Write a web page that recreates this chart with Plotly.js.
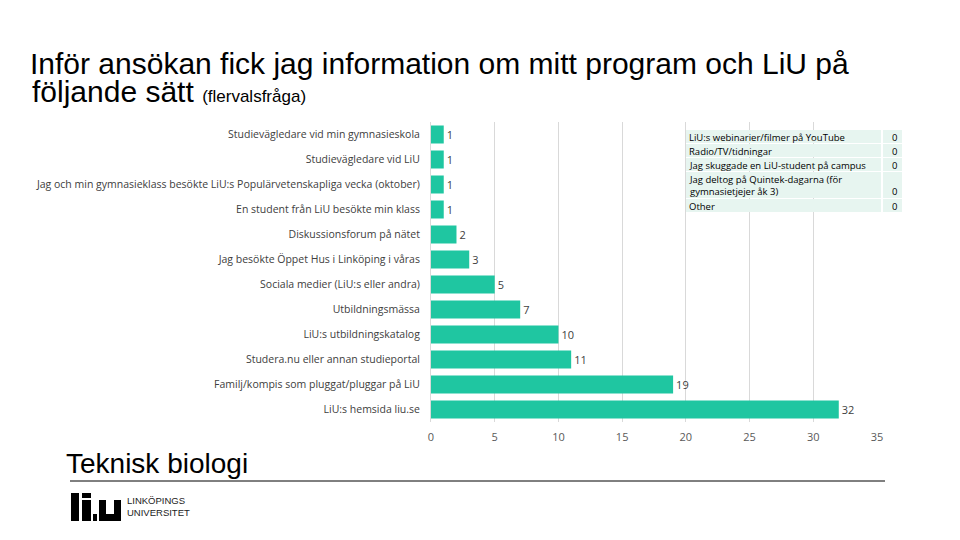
<!DOCTYPE html>
<html>
<head>
<meta charset="utf-8">
<script src="https://cdn.plot.ly/plotly-3.0.1.min.js"></script>
<style>html,body{margin:0;padding:0;background:#fff;}#chart{width:960px;height:540px;}</style>
</head>
<body>
<div id="chart"></div>
<script>
// Bar chart categories (top to bottom) and counts
const categories = [
  "Studievägledare vid min gymnasieskola",
  "Studievägledare vid LiU",
  "Jag och min gymnasieklass besökte LiU:s Populärvetenskapliga vecka (oktober)",
  "En student från LiU besökte min klass",
  "Diskussionsforum på nätet",
  "Jag besökte Öppet Hus i Linköping i våras",
  "Sociala medier (LiU:s eller andra)",
  "Utbildningsmässa",
  "LiU:s utbildningskatalog",
  "Studera.nu eller annan studieportal",
  "Familj/kompis som pluggat/pluggar på LiU",
  "LiU:s hemsida liu.se"
];
const counts = [1, 1, 1, 1, 2, 3, 5, 7, 10, 11, 19, 32];

// Zero-answer options listed in the inset table
const tableLabels = [
  "LiU:s webinarier/filmer på YouTube",
  "Radio/TV/tidningar",
  "Jag skuggade en LiU-student på campus",
  "Jag deltog på Quintek-dagarna (för<br>gymnasietjejer åk 3)",
  "Other"
];
const tableValues = [0, 0, 0, 0, 0];

const xTicks = [0, 5, 10, 15, 20, 25, 30, 35];

const titleLine1 = "Inför ansökan fick jag information om mitt program och LiU på";
const titleLine2 = "följande sätt";
const titleNote = "(flervalsfråga)";
const footerText = "Teknisk biologi";

const W = 960, H = 540;
const M = {l: 431, r: 83, t: 122, b: 118};
const PW = W - M.l - M.r, PH = H - M.t - M.b;
const px = (x) => (x - M.l) / PW;
const py = (y) => (H - M.b - y) / PH;

const labelFont = {family: "Open Sans, Noto Sans, sans-serif", size: 10.5, color: "#404040"};
const tblFont = {family: "Open Sans, Noto Sans, sans-serif", size: 9.5, color: "#000000"};

const trace = {
  type: "bar",
  orientation: "h",
  y: categories,
  x: counts,
  marker: {color: "#1fc6a1"},
  text: counts.map(String),
  textposition: "outside",
  textfont: {family: "Open Sans, Noto Sans, sans-serif", size: 11, color: "#404040"},
  cliponaxis: false,
  width: 0.72,
  hoverinfo: "skip"
};

const shapes = [];
const annotations = [];

// Inset table
const rowTops = [130, 144, 158, 172, 199];
const rowBots = [143, 157, 171, 198, 212];
const tLeft = 686, tSep = 882, tRight = 902;
tableLabels.forEach((lab, i) => {
  shapes.push({type: "rect", xref: "paper", yref: "paper", layer: "above",
    x0: px(tLeft), x1: px(tSep - 1), y0: py(rowBots[i]), y1: py(rowTops[i]),
    fillcolor: "#e7f5f0", line: {width: 0}});
  shapes.push({type: "rect", xref: "paper", yref: "paper", layer: "above",
    x0: px(tSep + 1), x1: px(tRight), y0: py(rowBots[i]), y1: py(rowTops[i]),
    fillcolor: "#e7f5f0", line: {width: 0}});
  const multi = lab.indexOf("<br>") >= 0;
  annotations.push({xref: "paper", yref: "paper", x: px(tLeft + 1), y: py((rowTops[i] + rowBots[i]) / 2 + 0.5),
    xanchor: "left", yanchor: "middle", align: "left", showarrow: false, text: lab,
    font: tblFont});
  annotations.push({xref: "paper", yref: "paper", x: px(tRight - 8), y: py(multi ? rowBots[i] - 6.5 : (rowTops[i] + rowBots[i]) / 2 + 0.5),
    xanchor: "center", yanchor: "middle", showarrow: false, text: String(tableValues[i]),
    font: tblFont});
});

// Title second line with note
annotations.push({xref: "paper", yref: "paper", x: px(30), y: py(92), xanchor: "left", yanchor: "middle",
  showarrow: false, align: "left",
  text: titleLine2 + " <span style=\"font-size:17px\">" + titleNote + "</span>",
  font: {family: "Liberation Sans, Arial, sans-serif", size: 30, color: "#000"}});

// Footer
annotations.push({xref: "paper", yref: "paper", x: px(64), y: py(463), xanchor: "left", yanchor: "middle",
  showarrow: false, text: footerText,
  font: {family: "Liberation Sans, Arial, sans-serif", size: 28, color: "#000"}});
shapes.push({type: "line", xref: "paper", yref: "paper", x0: px(70), x1: px(885), y0: py(481), y1: py(481),
  line: {color: "#000", width: 1}});

// LiU logo
const logoRects = [
  [71, 79, 493, 521], [82, 91, 500, 521], [82, 91, 493, 498], [93, 97, 514, 521],
  [99, 106, 500, 521], [114, 121, 500, 521], [99, 121, 514, 521]
];
logoRects.forEach(r => shapes.push({type: "rect", xref: "paper", yref: "paper",
  x0: px(r[0]), x1: px(r[1]), y0: py(r[3]), y1: py(r[2]), fillcolor: "#000", line: {width: 0}}));
annotations.push({xref: "paper", yref: "paper", x: px(125), y: py(507), xanchor: "left", yanchor: "middle",
  showarrow: false, align: "left", text: "LINKÖPINGS<br>UNIVERSITET",
  font: {family: "Liberation Sans Narrow, Liberation Sans, Arial, sans-serif", size: 9.5, color: "#222"}});

const layout = {
  width: W, height: H,
  paper_bgcolor: "#fff", plot_bgcolor: "#fff",
  margin: {l: M.l, r: M.r, t: M.t, b: M.b, pad: 0},
  title: {text: titleLine1, x: 30 / W, xanchor: "left", xref: "container",
    y: 1 - 63 / H, yanchor: "middle", yref: "container",
    font: {family: "Liberation Sans, Arial, sans-serif", size: 30, color: "#000"}},
  showlegend: false,
  bargap: 0.28,
  xaxis: {range: [0, 35], tickvals: xTicks, ticktext: xTicks.map(String),
    showgrid: true, gridcolor: "#d9d9d9", gridwidth: 1, zeroline: false,
    showline: false, ticks: "", ticklabelstandoff: 7,
    tickfont: {family: "Open Sans, Noto Sans, sans-serif", size: 11, color: "#595959"},
    fixedrange: true},
  yaxis: {type: "category", autorange: "reversed", ticks: "", showgrid: false, zeroline: false,
    showline: true, linecolor: "#d9d9d9", linewidth: 1,
    tickfont: labelFont, ticklabelstandoff: 8, automargin: false, fixedrange: true},
  shapes: shapes,
  annotations: annotations
};

Plotly.newPlot("chart", [trace], layout, {displayModeBar: false, staticPlot: true});
</script>
</body>
</html>
